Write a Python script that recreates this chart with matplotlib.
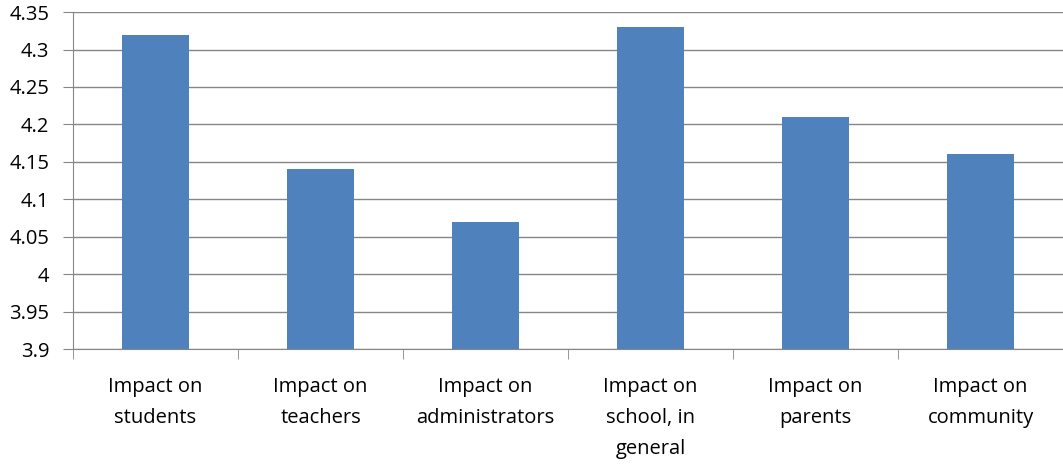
import numpy as np
import matplotlib.pyplot as plt

categories = ['Impact on\nstudents', 'Impact on\nteachers', 'Impact on\nadministrators',
              'Impact on\nschool, in\ngeneral', 'Impact on\nparents', 'Impact on\ncommunity']
values = [4.32, 4.14, 4.07, 4.33, 4.21, 4.16]
yticks = [3.9, 3.95, 4.0, 4.05, 4.1, 4.15, 4.2, 4.25, 4.3, 4.35]
ytick_labels = ['3.9', '3.95', '4', '4.05', '4.1', '4.15', '4.2', '4.25', '4.3', '4.35']

plt.rcParams['font.family'] = ['Open Sans', 'DejaVu Sans']

fig = plt.figure(figsize=(10.63, 4.66), dpi=100)
ax = fig.add_axes([0.0687, 0.251, 0.9313, 0.723])

x = np.arange(len(categories))
ax.bar(x, values, width=0.41, color='#4F81BD', zorder=3)

ax.set_xlim(-0.5, len(categories) - 0.5)
ax.set_ylim(3.9, 4.35)
ax.set_yticks(yticks)
ax.set_yticklabels(ytick_labels, fontsize=14.5)
ax.yaxis.grid(True, color='#868686', linewidth=1, zorder=0)

# category labels centred under bars, tick marks between categories
ax.set_xticks(x)
ax.set_xticklabels(categories, fontsize=14.5, linespacing=1.75)
ax.tick_params(axis='x', length=0, pad=20)
ax.set_xticks(np.arange(len(categories) + 1) - 0.5, minor=True)
ax.tick_params(axis='x', which='minor', length=7, color='#868686')
ax.tick_params(axis='y', length=7, color='#868686', pad=10)

for side in ['top', 'right']:
    ax.spines[side].set_visible(False)
for side in ['left', 'bottom']:
    ax.spines[side].set_color('#868686')

plt.savefig('out.png', dpi=100)
